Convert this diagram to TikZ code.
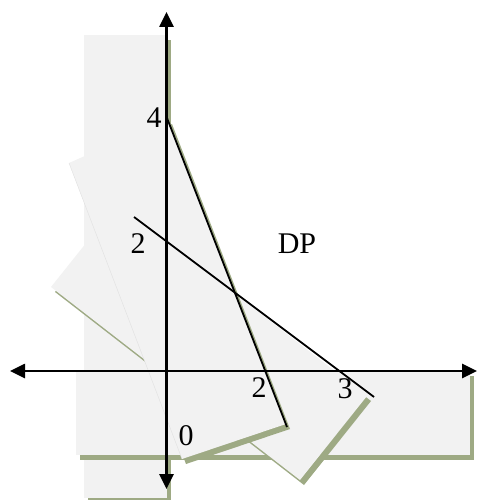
\documentclass[tikz,border=0pt]{standalone}
\usepackage{fontspec}
\setmainfont{Liberation Serif}
\usetikzlibrary{arrows.meta}
\definecolor{paneshadow}{RGB}{158,170,132}
\definecolor{panegray}{RGB}{242,242,242}
\tikzset{
  pane/.style={fill=panegray},
  paneshade/.style={fill=paneshadow, shift={(4,5)}},
  axis/.style={line width=2.6pt,
    {Triangle[length=15pt,width=14pt]}-{Triangle[length=15pt,width=14pt]}},
  bound/.style={line width=1.8pt},
  tick/.style={font=\fontsize{30}{32}\selectfont, inner sep=0pt}
}
\begin{document}
\begin{tikzpicture}[x=1pt,y=-1pt]
    \path[use as bounding box] (0,0) rectangle (478,500);
    % Panes
    \fill[paneshade] (84,35) rectangle (167,498);
    \fill[pane] (84,35) rectangle (167,498);
    \fill[paneshade] (76,371) rectangle (470,455);
    \fill[pane] (76,371) rectangle (470,455);
    \fill[paneshade] (51,287) -- (300,480) -- (367,396) -- (118,203) -- cycle;
    \fill[pane] (51,287) -- (300,480) -- (367,396) -- (118,203) -- cycle;
    \fill[paneshade] (182,459) -- (286,424) -- (168,119) -- (69,163) -- cycle;
    \fill[pane] (182,459) -- (286,424) -- (168,119) -- (69,163) -- cycle;
    \draw[black!12] (69,163) -- (182,459);

    % Axes
    \coordinate (ytop) at (166.5,12);
    \coordinate (ybot) at (166.5,489);
    \coordinate (xleft) at (10,371);
    \coordinate (xright) at (477,371);
    \draw[axis] (ybot) -- (ytop);
    \draw[axis] (xleft) -- (xright);

    % Constraints
    \coordinate (cAtop) at (167,118);
    \coordinate (cAend) at (287,427);
    \coordinate (cBtop) at (134,217);
    \coordinate (cBend) at (374,397);
    \draw[bound] (cAtop) -- (cAend);
    \draw[bound] (cBtop) -- (cBend);

    % Labels
    \node[tick] (yfour) at (154,118) {4};
    \node[tick] (ytwo) at (138,244) {2};
    \node[tick] (xtwo) at (259,388) {2};
    \node[tick] (xthree) at (345,389) {3};
    \node[tick] (orig) at (186,436) {0};
    \node[tick] (region) at (297,244) {DP};
  \end{tikzpicture}
\end{document}
